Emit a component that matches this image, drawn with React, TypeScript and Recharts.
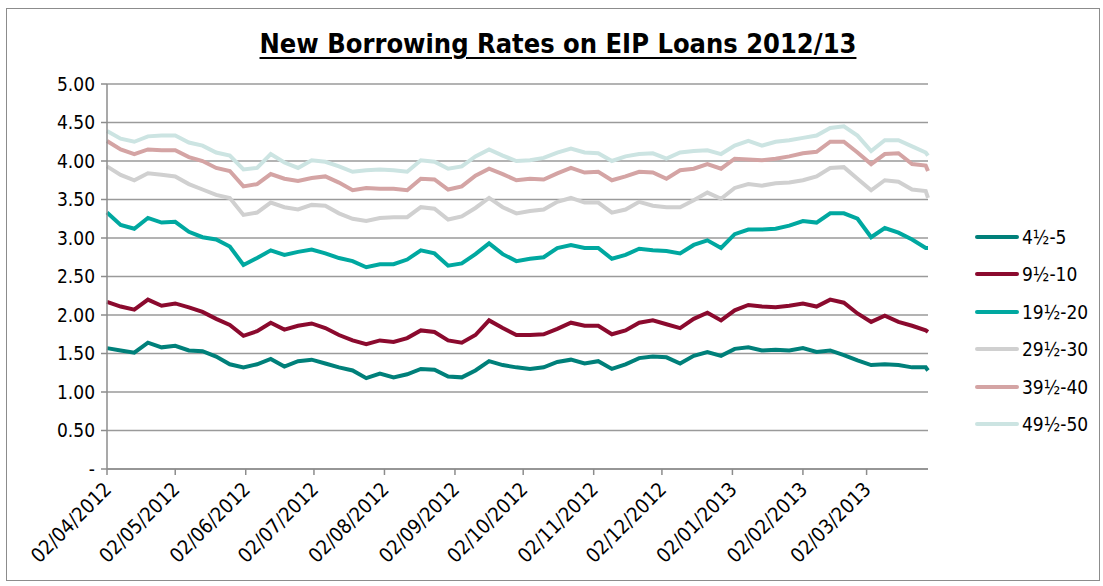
import { LineChart, Line, XAxis, YAxis, CartesianGrid } from "recharts";

// sample dates (dd/mm/yyyy), roughly every 6 days
const dates = [
  "02/04/2012", "08/04/2012", "14/04/2012", "20/04/2012", "26/04/2012",
  "02/05/2012", "08/05/2012", "14/05/2012", "20/05/2012", "26/05/2012",
  "01/06/2012", "07/06/2012", "13/06/2012", "19/06/2012", "25/06/2012",
  "01/07/2012", "07/07/2012", "13/07/2012", "19/07/2012", "25/07/2012",
  "31/07/2012", "06/08/2012", "12/08/2012", "18/08/2012", "24/08/2012",
  "30/08/2012", "05/09/2012", "11/09/2012", "17/09/2012", "23/09/2012",
  "29/09/2012", "05/10/2012", "11/10/2012", "17/10/2012", "23/10/2012",
  "29/10/2012", "04/11/2012", "10/11/2012", "16/11/2012", "22/11/2012",
  "28/11/2012", "04/12/2012", "10/12/2012", "16/12/2012", "22/12/2012",
  "28/12/2012", "03/01/2013", "09/01/2013", "15/01/2013", "21/01/2013",
  "27/01/2013", "02/02/2013", "08/02/2013", "14/02/2013", "20/02/2013",
  "26/02/2013", "04/03/2013", "10/03/2013", "16/03/2013", "22/03/2013",
  "28/03/2013", "29/03/2013",
];

const tickLabels = [
  "02/04/2012", "02/05/2012", "02/06/2012", "02/07/2012", "02/08/2012",
  "02/09/2012", "02/10/2012", "02/11/2012", "02/12/2012", "02/01/2013",
  "02/02/2013", "02/03/2013",
];

const yTicks = [0, 0.5, 1, 1.5, 2, 2.5, 3, 3.5, 4, 4.5, 5];

const seriesNames = ["4½-5", "9½-10", "19½-20", "29½-30", "39½-40", "49½-50"];
const seriesColors = ["#00807a", "#8b0a2e", "#00a8a0", "#d0d0d0", "#d4a4a4", "#cce4e2"];

const rate5 = [
  1.57, 1.54, 1.51, 1.64, 1.58, 1.6, 1.54, 1.53, 1.46, 1.36, 1.32, 1.36, 1.43, 1.33, 1.4, 1.42,
  1.37, 1.32, 1.28, 1.18, 1.24, 1.19, 1.23, 1.3, 1.29, 1.2, 1.19, 1.28, 1.4, 1.35, 1.32, 1.3,
  1.32, 1.39, 1.42, 1.37, 1.4, 1.3, 1.36, 1.44, 1.46, 1.45, 1.37, 1.47, 1.52, 1.47, 1.56,
  1.58, 1.54, 1.55, 1.54, 1.57, 1.52, 1.54, 1.48, 1.41, 1.35, 1.36, 1.35, 1.32, 1.32, 1.28,
];
const rate10 = [
  2.17, 2.11, 2.07, 2.2, 2.12, 2.15, 2.1, 2.04, 1.95, 1.87, 1.73, 1.79, 1.9, 1.81, 1.86, 1.89,
  1.83, 1.74, 1.67, 1.62, 1.67, 1.65, 1.7, 1.8, 1.78, 1.67, 1.64, 1.74, 1.93, 1.83, 1.74, 1.74,
  1.75, 1.82, 1.9, 1.86, 1.86, 1.75, 1.8, 1.9, 1.93, 1.88, 1.83, 1.95, 2.03, 1.93, 2.06,
  2.13, 2.11, 2.1, 2.12, 2.15, 2.11, 2.2, 2.16, 2.02, 1.91, 1.99, 1.91, 1.86, 1.8, 1.78,
];
const rate20 = [
  3.33, 3.17, 3.12, 3.26, 3.2, 3.21, 3.08, 3.01, 2.98, 2.89, 2.65, 2.74, 2.84, 2.78, 2.82, 2.85,
  2.8, 2.74, 2.7, 2.62, 2.66, 2.66, 2.72, 2.84, 2.8, 2.64, 2.67, 2.79, 2.93, 2.79, 2.7, 2.73,
  2.75, 2.87, 2.91, 2.87, 2.87, 2.73, 2.78, 2.86, 2.84, 2.83, 2.8, 2.91, 2.97, 2.87, 3.05,
  3.11, 3.11, 3.12, 3.16, 3.22, 3.2, 3.32, 3.32, 3.25, 3.01, 3.13, 3.07, 2.98, 2.87, 2.87,
];
const rate30 = [
  3.93, 3.82, 3.75, 3.84, 3.82, 3.8, 3.7, 3.63, 3.56, 3.52, 3.3, 3.33, 3.46, 3.4, 3.37, 3.43,
  3.42, 3.32, 3.25, 3.22, 3.26, 3.27, 3.27, 3.4, 3.38, 3.24, 3.28, 3.39, 3.52, 3.4, 3.32, 3.35,
  3.37, 3.47, 3.52, 3.46, 3.46, 3.33, 3.37, 3.47, 3.42, 3.4, 3.4, 3.49, 3.59, 3.51, 3.65,
  3.7, 3.68, 3.71, 3.72, 3.75, 3.8, 3.91, 3.92, 3.77, 3.62, 3.75, 3.73, 3.63, 3.61, 3.52,
];
const rate40 = [
  4.26, 4.15, 4.09, 4.15, 4.14, 4.14, 4.05, 4.0, 3.91, 3.87, 3.67, 3.7, 3.83, 3.77, 3.74, 3.78,
  3.8, 3.72, 3.62, 3.65, 3.64, 3.64, 3.62, 3.77, 3.76, 3.63, 3.67, 3.81, 3.9, 3.83, 3.75, 3.77,
  3.76, 3.84, 3.91, 3.85, 3.86, 3.75, 3.8, 3.86, 3.85, 3.77, 3.88, 3.9, 3.96, 3.9, 4.03,
  4.02, 4.01, 4.03, 4.06, 4.1, 4.12, 4.25, 4.25, 4.11, 3.96, 4.09, 4.1, 3.96, 3.94, 3.87,
];
const rate50 = [
  4.39, 4.29, 4.25, 4.32, 4.33, 4.33, 4.24, 4.2, 4.11, 4.07, 3.89, 3.91, 4.09, 3.98, 3.91, 4.01,
  3.99, 3.93, 3.86, 3.88, 3.89, 3.88, 3.86, 4.01, 3.99, 3.9, 3.93, 4.06, 4.15, 4.07, 4.0, 4.01,
  4.04, 4.11, 4.16, 4.11, 4.1, 4.0, 4.06, 4.09, 4.1, 4.03, 4.11, 4.13, 4.14, 4.09, 4.2,
  4.26, 4.2, 4.25, 4.27, 4.3, 4.33, 4.43, 4.45, 4.33, 4.13, 4.27, 4.27, 4.19, 4.11, 4.07,
];

const seriesValues = [rate5, rate10, rate20, rate30, rate40, rate50];

const parseDate = (s: string) => {
  const [d, m, y] = s.split("/").map(Number);
  return Date.UTC(y, m - 1, d);
};

const data = dates.map((d, i) => {
  const row: Record<string, number> = { t: parseDate(d) };
  seriesValues.forEach((vals, j) => {
    row["s" + j] = vals[i];
  });
  return row;
});

const tickTimes = tickLabels.map(parseDate);

const FONT = "'DejaVu Sans Condensed', 'DejaVu Sans', sans-serif";

function XTick({ x, y, payload }: any) {
  const idx = tickTimes.indexOf(payload.value);
  return (
    <g transform={`translate(${x - 5},${y + 3})`}>
      <text
        x={0}
        y={0}
        dy={15}
        textAnchor="end"
        transform="rotate(-45)"
        fill="#000"
        fontSize={20}
        fontFamily={FONT}
        style={{ fontStretch: "condensed" }}
      >
        {tickLabels[idx] ?? ""}
      </text>
    </g>
  );
}

export default function App() {
  return (
    <div
      style={{
        position: "absolute",
        left: 0,
        top: 0,
        width: 1103,
        height: 586,
        background: "#fff",
        fontFamily: FONT,
        fontStretch: "condensed",
      }}
    >
      <div
        style={{
          position: "absolute",
          left: 6,
          top: 8,
          width: 1092,
          height: 571,
          border: "1px solid #8c8c8c",
        }}
      />
      <div
        style={{
          position: "absolute",
          left: 0,
          top: 28,
          width: 1116,
          textAlign: "center",
          fontSize: 27,
          fontWeight: "bold",
          textDecoration: "underline",
          textDecorationThickness: 2,
          textUnderlineOffset: 4,
          color: "#000",
        }}
      >
        New Borrowing Rates on EIP Loans 2012/13
      </div>
      <div style={{ position: "absolute", left: 0, top: 0 }}>
        <LineChart
          width={1103}
          height={586}
          data={data}
          margin={{ top: 84, right: 175, left: 47, bottom: 17 }}
        >
          <CartesianGrid vertical={false} stroke="#9a9a9a" strokeWidth={1.5} />
          <XAxis
            dataKey="t"
            type="number"
            domain={[parseDate(dates[0]), parseDate(dates[dates.length - 1])]}
            ticks={tickTimes}
            interval={0}
            height={100}
            tick={<XTick />}
            stroke="#8c8c8c"
            strokeWidth={1.5}
            tickSize={6}
          />
          <YAxis
            type="number"
            domain={[0, 5]}
            ticks={yTicks}
            interval={0}
            width={60}
            tickFormatter={(v: number) => (v === 0 ? "-" : v.toFixed(2))}
            tick={{ fill: "#000", fontSize: 19, fontFamily: FONT, style: { fontStretch: "condensed" } }}
            stroke="#8c8c8c"
            strokeWidth={1.5}
            tickSize={6}
            tickMargin={6}
          />
          {seriesNames.map((name, j) => (
            <Line
              key={name}
              name={name}
              dataKey={"s" + j}
              stroke={seriesColors[j]}
              strokeWidth={4}
              dot={false}
              type="linear"
              isAnimationActive={false}
            />
          ))}
        </LineChart>
      </div>
      <div style={{ position: "absolute", left: 975, top: 218 }}>
        {seriesNames.map((name, j) => (
          <div
            key={name}
            style={{ display: "flex", alignItems: "center", height: 37.5 }}
          >
            <span
              style={{
                display: "inline-block",
                width: 44,
                height: 4,
                borderRadius: 2,
                background: seriesColors[j],
              }}
            />
            <span style={{ marginLeft: 3, fontSize: 19, color: "#000" }}>
              {name}
            </span>
          </div>
        ))}
      </div>
    </div>
  );
}
